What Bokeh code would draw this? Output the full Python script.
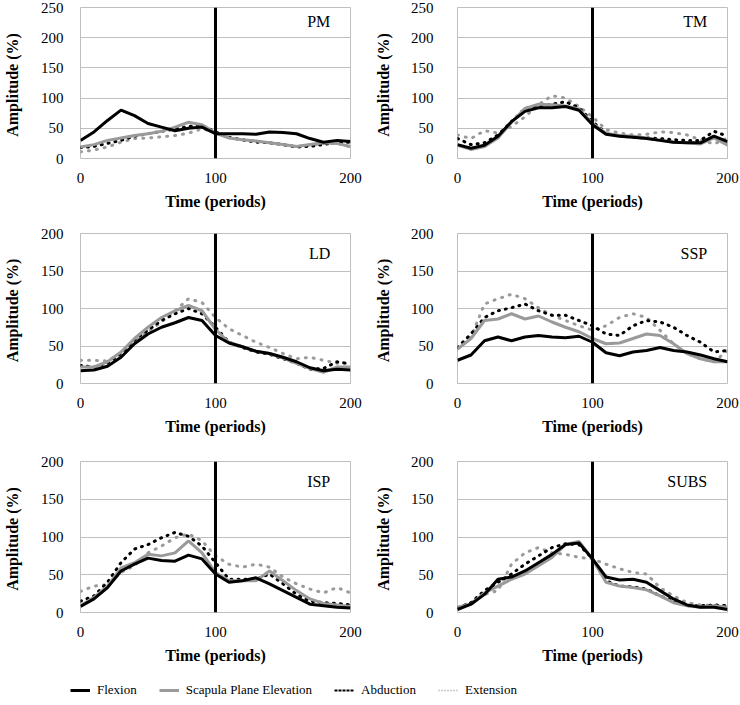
from bokeh.plotting import figure
from bokeh.layouts import column, row
from bokeh.models import Span, Legend, LegendItem, FixedTicker, Range1d, ColumnDataSource
from bokeh.embed import file_html
from bokeh.resources import INLINE
from bokeh.core.properties import value

# ---------------- data ----------------
TIME = [0, 10, 20, 30, 40, 50, 60, 70, 80, 90, 100,
        110, 120, 130, 140, 150, 160, 170, 180, 190, 200]
MUSCLES = ["PM", "TM", "LD", "SSP", "ISP", "SUBS"]
MOVEMENTS = ["Flexion", "Scapula Plane Elevation", "Abduction", "Extension"]
Y_MAX = [250, 250, 200, 200, 200, 200]
Y_TICKS_250 = [0, 50, 100, 150, 200, 250]
Y_TICKS_200 = [0, 50, 100, 150, 200]
X_TICKS = [0, 100, 200]
PHASE_SPLIT = [100]

PM_flexion   = [30, 44, 63, 80, 71, 58, 52, 46, 50, 52, 41, 41, 41, 40, 44, 43, 41, 33, 27, 30, 28]
PM_scapula   = [19, 23, 30, 34, 38, 41, 45, 52, 60, 56, 42, 34, 31, 29, 26, 23, 20, 23, 26, 25, 20]
PM_abduction = [18, 20, 25, 30, 37, 41, 45, 49, 53, 55, 44, 35, 31, 27, 26, 23, 19, 20, 23, 27, 27]
PM_extension = [11, 14, 19, 27, 33, 34, 36, 38, 42, 49, 44, 35, 31, 29, 26, 23, 20, 22, 25, 25, 19]

TM_flexion   = [23, 17, 22, 37, 61, 78, 84, 84, 86, 80, 56, 40, 37, 35, 33, 30, 27, 26, 26, 37, 28]
TM_scapula   = [22, 15, 20, 34, 60, 83, 90, 89, 87, 82, 58, 42, 38, 37, 34, 30, 27, 26, 24, 34, 22]
TM_abduction = [33, 23, 26, 39, 61, 83, 86, 90, 94, 84, 61, 42, 38, 35, 34, 33, 31, 30, 30, 45, 37]
TM_extension = [39, 33, 46, 42, 53, 69, 89, 104, 100, 86, 69, 48, 42, 39, 40, 44, 43, 39, 31, 24, 34]

LD_flexion   = [17, 18, 23, 35, 53, 66, 75, 81, 88, 84, 64, 54, 49, 43, 40, 35, 29, 21, 17, 19, 18]
LD_scapula   = [22, 22, 29, 42, 60, 75, 88, 97, 104, 97, 72, 55, 49, 43, 40, 34, 27, 20, 15, 22, 22]
LD_abduction = [24, 22, 27, 40, 58, 71, 84, 93, 100, 93, 75, 55, 48, 42, 39, 33, 27, 19, 20, 29, 26]
LD_extension = [31, 31, 30, 40, 55, 69, 82, 97, 113, 108, 88, 73, 64, 55, 48, 40, 33, 35, 31, 27, 27]

SSP_flexion   = [31, 38, 57, 62, 57, 62, 64, 62, 61, 63, 55, 41, 37, 42, 44, 48, 44, 42, 38, 33, 29]
SSP_scapula   = [46, 60, 84, 86, 93, 86, 90, 82, 75, 69, 60, 53, 54, 60, 66, 64, 53, 40, 33, 29, 29]
SSP_abduction = [48, 66, 88, 97, 101, 106, 97, 91, 91, 84, 77, 66, 64, 77, 84, 82, 75, 64, 55, 42, 44]
SSP_extension = [46, 62, 106, 113, 119, 113, 101, 91, 84, 77, 71, 77, 88, 93, 88, 71, 53, 40, 33, 29, 44]

ISP_flexion   = [8, 18, 33, 55, 64, 72, 69, 68, 76, 71, 51, 40, 42, 46, 38, 29, 20, 11, 9, 7, 6]
ISP_scapula   = [9, 20, 35, 59, 66, 77, 75, 79, 95, 79, 53, 42, 42, 42, 55, 42, 29, 18, 12, 10, 8]
ISP_abduction = [15, 22, 40, 66, 84, 90, 99, 106, 101, 88, 66, 44, 44, 44, 51, 38, 24, 15, 13, 12, 10]
ISP_extension = [28, 35, 37, 53, 62, 79, 88, 99, 104, 95, 75, 64, 60, 64, 60, 47, 38, 31, 26, 33, 26]

SUBS_flexion   = [4, 11, 24, 44, 47, 55, 66, 77, 90, 92, 71, 47, 43, 44, 40, 29, 18, 10, 7, 7, 4]
SUBS_scapula   = [7, 11, 26, 35, 44, 51, 62, 73, 90, 94, 71, 40, 35, 33, 30, 22, 13, 9, 7, 9, 7]
SUBS_abduction = [6, 13, 29, 40, 51, 64, 75, 86, 91, 90, 71, 42, 35, 34, 31, 22, 15, 9, 9, 10, 9]
SUBS_extension = [7, 13, 24, 29, 64, 79, 86, 79, 77, 73, 71, 64, 58, 53, 51, 33, 22, 13, 10, 9, 9]

SERIES = {
    "PM": [PM_flexion, PM_scapula, PM_abduction, PM_extension],
    "TM": [TM_flexion, TM_scapula, TM_abduction, TM_extension],
    "LD": [LD_flexion, LD_scapula, LD_abduction, LD_extension],
    "SSP": [SSP_flexion, SSP_scapula, SSP_abduction, SSP_extension],
    "ISP": [ISP_flexion, ISP_scapula, ISP_abduction, ISP_extension],
    "SUBS": [SUBS_flexion, SUBS_scapula, SUBS_abduction, SUBS_extension],
}

# ---------------- styles ----------------
FONT = "Liberation Serif"
GRID = "#bfbfbf"
STYLES = [
    dict(line_color="#000000", line_width=3),
    dict(line_color="#9a9a9a", line_width=3),
    dict(line_color="#000000", line_width=3, line_dash="1 6", line_cap="round"),
    dict(line_color="#9a9a9a", line_width=3, line_dash="1 7", line_cap="round"),
]

ROW_BORDERS = [(7, 65, 151), (10, 65, 150), (13, 65, 151)]   # top, bottom, frame height
COL_BORDERS = [(80, 18, 17, 17), (89, 13, 24, 16)]           # left, right, tick standoff, label standoff


def make_panel(idx):
    r, c = divmod(idx, 2)
    top, bottom, fh = ROW_BORDERS[r]
    left, right, tstand, lstand = COL_BORDERS[c]
    name = MUSCLES[idx]
    ymax = Y_MAX[idx]
    p = figure(frame_width=270, frame_height=fh, output_backend="svg", toolbar_location=None,
               x_range=Range1d(0, 200), y_range=Range1d(0, ymax),
               min_border_left=left, min_border_right=right,
               min_border_top=top, min_border_bottom=bottom)
    p.outline_line_color = GRID
    p.outline_line_width = 1
    p.background_fill_color = "white"
    p.border_fill_color = "white"
    p.xgrid.visible = False
    p.ygrid.grid_line_color = GRID
    p.ygrid.grid_line_width = 1
    p.ygrid.ticker = FixedTicker(ticks=Y_TICKS_250 if ymax == 250 else Y_TICKS_200)

    for ax in (p.xaxis[0], p.yaxis[0]):
        ax.axis_line_color = None
        ax.major_tick_line_color = None
        ax.minor_tick_line_color = None
        ax.major_tick_out = 0
        ax.major_tick_in = 0
        ax.major_label_text_font = FONT
        ax.major_label_text_font_size = "15px"
        ax.major_label_text_color = "#000000"
        ax.axis_label_text_font = FONT
        ax.axis_label_text_font_size = "16px"
        ax.axis_label_text_font_style = "bold"
        ax.axis_label_text_color = "#000000"

    p.xaxis.ticker = FixedTicker(ticks=X_TICKS)
    p.xaxis.axis_label = "Time (periods)"
    p.xaxis.major_label_standoff = 14
    p.xaxis.axis_label_standoff = 7

    p.yaxis.ticker = FixedTicker(ticks=Y_TICKS_250 if ymax == 250 else Y_TICKS_200)
    p.yaxis.axis_label = "Amplitude  (%)"
    p.yaxis.major_label_standoff = tstand
    p.yaxis.axis_label_standoff = lstand

    src = ColumnDataSource(dict(x=TIME, **{f"s{k}": v for k, v in enumerate(SERIES[name])}))
    for k in [3, 2, 1, 0]:
        p.line(x="x", y=f"s{k}", source=src, **STYLES[k])

    p.add_layout(Span(location=PHASE_SPLIT[0], dimension="height", line_color="#000000", line_width=3))

    ly = 227 if ymax == 250 else 173
    p.text(x=[185], y=[ly], text=[name], text_align="right", text_baseline="middle",
           text_font=value(FONT), text_font_size="16px", text_color="#000000")
    return p


panels = [make_panel(i) for i in range(6)]

# ---------------- legend strip ----------------
lg = figure(width=740, height=26, output_backend="svg", toolbar_location=None,
            x_range=Range1d(0, 1), y_range=Range1d(0, 1),
            min_border_left=0, min_border_right=0, min_border_top=0, min_border_bottom=0)
lg.axis.visible = False
lg.grid.visible = False
lg.outline_line_color = None
lg.background_fill_color = "white"
legend_styles = [
    dict(line_color="#000000", line_width=3),
    dict(line_color="#9a9a9a", line_width=3),
    dict(line_color="#000000", line_width=2, line_dash="3 1"),
    dict(line_color="#9a9a9a", line_width=1.5, line_dash="1 2"),
]
items = []
for name, st in zip(MOVEMENTS, legend_styles):
    # legend-only renderer, kept outside the visible range of the strip
    rr = lg.line(x=TIME[:2], y=[-5, -5], **st)
    items.append(LegendItem(label=name, renderers=[rr]))
leg = Legend(items=items, orientation="horizontal", location=(70, 3),
             label_text_font=FONT, label_text_font_size="13px", label_text_color="#000000",
             glyph_width=20, glyph_height=20, label_height=20, label_standoff=7,
             spacing=22, padding=0, margin=0, border_line_color=None,
             background_fill_alpha=0)
lg.add_layout(leg)

layout = column(row(panels[0], panels[1]), row(panels[2], panels[3]),
                row(panels[4], panels[5]), lg)

open("out.html", "w").write(file_html(layout, INLINE))
